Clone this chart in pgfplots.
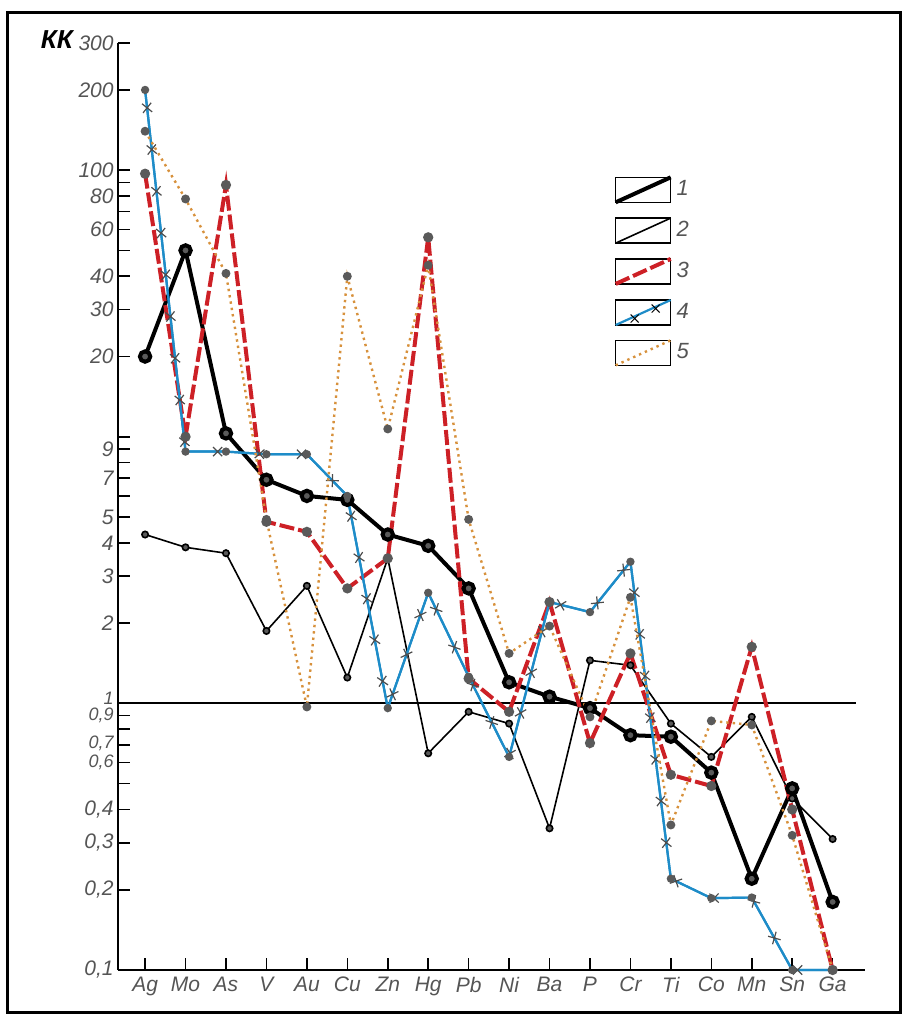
\documentclass[border=0pt]{standalone}
\usepackage{pgfplots}
\pgfplotsset{compat=1.18}
\usepackage{fontspec}
\setmainfont{Liberation Sans}
\usetikzlibrary{decorations.markings}
\definecolor{rd}{RGB}{205,32,38}
\definecolor{bl}{RGB}{30,140,200}
\definecolor{orn}{RGB}{215,145,60}
\definecolor{tk}{RGB}{85,85,85}
\definecolor{dotc}{RGB}{90,90,90}
\newcommand{\sm}[1]{{\fontsize{9}{10}\selectfont #1}}
\begin{document}
\begin{tikzpicture}[x=1pt,y=1pt]
\useasboundingbox (-59,-23.5) rectangle (393,485);
\draw[line width=1.5pt] (-55,-21) rectangle (391,478.5);
\begin{axis}[
  at={(0,0)}, anchor=south west,
  scale only axis, width=373.5pt, height=463.5pt,
  ymode=log, ymin=0.1, ymax=300,
  xmin=-0.67, xmax=17.8,
  axis x line=bottom, axis y line=left,
  axis line style={-, line width=1pt},
  xtick={0,...,17},
  xticklabels={Ag,Mo,As,V,Au,Cu,Zn,Hg,Pb,Ni,Ba,P,Cr,Ti,Co,Mn,Sn,Ga},
  ytick={0.1,0.2,0.3,0.4,0.6,0.7,0.9,1,2,3,4,5,7,9,20,30,40,60,80,100,200,300},
  yticklabels={{0,1},{0,2},{0,3},{0,4},{\raisebox{-2pt}{\sm{0,6}}},{\raisebox{2pt}{\sm{0,7}}},{\raisebox{-2.5pt}{\sm{0,9}}},{\raisebox{5pt}{\sm{1}}},2,3,4,5,7,9,20,30,40,60,80,100,200,300},
  extra y ticks={0.5,0.8,6,8,10,50,70,90},
  extra y tick labels={},
  minor y tick num=0, yminorticks=false,
  tick align=inside, major tick length=6pt,
  tick style={line width=0.8pt, black},
  ticklabel style={font=\itshape\fontsize{10.5}{12}\selectfont, text=tk},
  yticklabel style={inner ysep=0pt, inner xsep=2pt},
  clip=false,
  legend style={draw=none, fill=none, at={(0.655,0.862)}, anchor=north west,
    row sep=6.5pt, font=\itshape\fontsize{11}{12}\selectfont, text=tk},
  legend cell align=left,
  legend image code/.code={
    \draw[solid, black, line width=0.7pt] (0pt,-6.25pt) rectangle (27.5pt,6.25pt);
    \draw (0pt,-6.25pt) -- (27.5pt,6.25pt);
  },
]
% reference line at 1
\addplot[black, line width=1pt, forget plot] coordinates {(-0.67,1) (17.58,1)};

% series 1
\addplot[black, line width=2pt, mark=*, mark size=2.6pt,
  mark options={solid, fill=dotc, draw=black}] coordinates {
(0,20) (1,50) (2,10.3) (3,6.9) (4,6.0) (5,5.8) (6,4.3) (7,3.9) (8,2.7)
(9,1.2) (10,1.06) (11,0.96) (12,0.76) (13,0.75) (14,0.55) (15,0.22) (16,0.48) (17,0.18)};
\addlegendentry{1}

% series 2
\addplot[black, line width=0.8pt, mark=*, mark size=1.6pt,
  mark options={solid, fill=dotc, draw=black}] coordinates {
(0,4.3) (1,3.85) (2,3.66) (3,1.87) (4,2.76) (5,1.25) (6,3.5) (7,0.65) (8,0.93)
(9,0.84) (10,0.34) (11,1.45) (12,1.39) (13,0.84) (14,0.63) (15,0.89) (16,0.44) (17,0.31)};
\addlegendentry{2}

% series 3
\addplot[rd, line width=2pt, dash pattern=on 7.5pt off 2pt, mark=*, mark size=1.5pt,
  mark options={solid, fill=dotc, draw=dotc}] coordinates {
(0,97) (1,10) (2,88) (3,4.8) (4,4.4) (5,2.7) (6,3.5) (7,56) (8,1.24)
(9,0.93) (10,2.4) (11,0.71) (12,1.54) (13,0.54) (14,0.49) (15,1.63) (16,0.4) (17,0.1)};
\addlegendentry{3}

% series 4
\addplot[bl, line width=1.1pt, mark=*, mark size=1.5pt,
  mark options={solid, fill=dotc, draw=dotc},
  legend image code/.code={
    \draw[solid, black, line width=0.7pt] (0pt,-6.25pt) rectangle (27.5pt,6.25pt);
    \draw[bl, line width=1.1pt] (0pt,-6.25pt) -- (27.5pt,6.25pt);
    \draw[black, line width=0.5pt] (7.5pt,-5pt) -- (11.5pt,-1pt) (7.5pt,-1pt) -- (11.5pt,-5pt);
    \draw[black, line width=0.5pt] (18pt,0pt) -- (22pt,4pt) (18pt,4pt) -- (22pt,0pt);
  }] coordinates {
(0,200) (1,8.8) (2,8.8) (3,8.6) (4,8.6) (5,6.0) (6,0.96) (7,2.6) (8,1.26)
(9,0.63) (10,2.4) (11,2.2) (12,3.4) (13,0.22) (14,0.186) (15,0.187) (16,0.1) (17,0.1)};
\addlegendentry{4}
\addplot[bl, line width=1.1pt, forget plot,
  postaction={decorate, decoration={markings,
    mark=between positions 9pt and 1 step 21pt with {
      \draw[solid, black!70, line width=0.6pt] (-2.3pt,-2.3pt) -- (2.3pt,2.3pt) (-2.3pt,2.3pt) -- (2.3pt,-2.3pt);}}}]
 coordinates {
(0,200) (1,8.8) (2,8.8) (3,8.6) (4,8.6) (5,6.0) (6,0.96) (7,2.6) (8,1.26)
(9,0.63) (10,2.4) (11,2.2) (12,3.4) (13,0.22) (14,0.186) (15,0.187) (16,0.1) (17,0.1)};

% series 5
\addplot[orn, line width=1.2pt, dotted, mark=*, mark size=1.6pt,
  mark options={solid, fill=dotc, draw=dotc}] coordinates {
(0,140) (1,78) (2,41) (3,4.9) (4,0.97) (5,40) (6,10.7) (7,44) (8,4.9)
(9,1.54) (10,1.95) (11,0.89) (12,2.5) (13,0.35) (14,0.86) (15,0.83) (16,0.32) (17,0.1)};
\addlegendentry{5}
\end{axis}
\node[anchor=east, font=\bfseries\itshape\fontsize{13}{14}\selectfont] at (-19,465) {КК};
\end{tikzpicture}
\end{document}
